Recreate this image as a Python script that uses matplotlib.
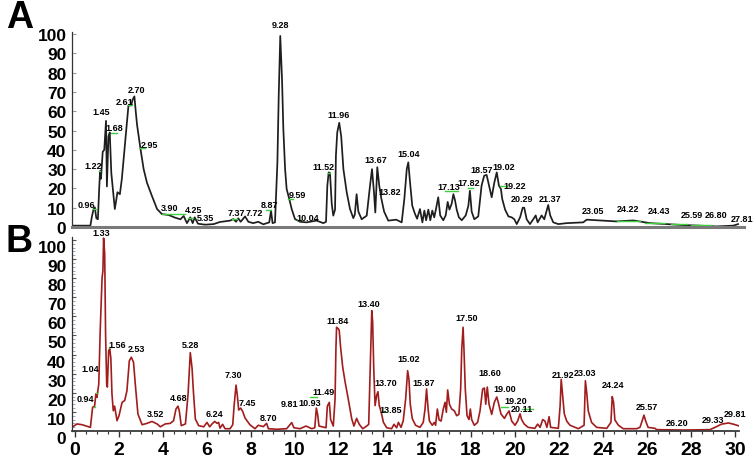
import matplotlib
matplotlib.use("Agg")
import matplotlib.pyplot as plt
from matplotlib.ticker import MultipleLocator
from matplotlib.transforms import ScaledTranslation

plt.rcParams['font.family'] = ['Liberation Sans', 'DejaVu Sans']

# ---- trace A (retention time, relative abundance)
a_time = [-0.14, 0.70, 0.77, 0.85, 0.90, 0.97, 1.04, 1.10, 1.14, 1.18, 1.26, 1.33, 1.41, 1.45,
          1.52, 1.58, 1.65, 1.72, 1.81, 1.93, 2.04, 2.13, 2.28, 2.43, 2.55, 2.62, 2.70, 2.76,
          2.82, 2.97, 3.12, 3.27, 3.50, 3.73, 3.95, 4.26, 4.56, 4.79, 4.94, 5.09, 5.24, 5.35,
          5.44, 5.59, 5.92, 6.30, 6.59, 7.05, 7.20, 7.32, 7.42, 7.53, 7.73, 7.88, 8.10, 8.33,
          8.56, 8.83, 8.91, 8.98, 9.09, 9.20, 9.26, 9.33, 9.41, 9.47, 9.55, 9.62, 9.74, 9.85,
          10.00, 10.23, 10.53, 10.98, 11.29, 11.41, 11.47, 11.53, 11.59, 11.67, 11.74, 11.82,
          11.86, 11.92, 12.01, 12.10, 12.20, 12.35, 12.50, 12.65, 12.72, 12.80, 12.88, 13.03,
          13.26, 13.41, 13.50, 13.59, 13.65, 13.74, 13.83, 13.92, 14.05, 14.24, 14.60, 14.85,
          14.97, 15.08, 15.15, 15.23, 15.33, 15.45, 15.55, 15.68, 15.79, 15.88, 15.96, 16.06,
          16.15, 16.24, 16.33, 16.42, 16.51, 16.60, 16.74, 16.85, 16.94, 17.02, 17.12, 17.20,
          17.27, 17.35, 17.45, 17.58, 17.76, 17.88, 17.95, 18.03, 18.15, 18.33, 18.48, 18.60,
          18.71, 18.82, 18.94, 19.06, 19.17, 19.27, 19.36, 19.42, 19.55, 19.70, 19.85, 19.97,
          20.08, 20.23, 20.35, 20.42, 20.53, 20.68, 20.83, 20.94, 21.03, 21.21, 21.33, 21.44,
          21.51, 21.60, 21.74, 21.97, 22.35, 23.10, 23.26, 23.86, 24.60, 25.38, 26.14, 26.90,
          27.65, 28.40, 29.17, 29.92, 30.14]
a_int = [0.7, 0.7, 5.5, 9.5, 10.2, 4.5, 4, 20, 29, 25, 39, 40, 55, 21,
         47, 49, 28, 20, 9.3, 18, 17, 25, 44, 63, 63, 66, 67.7, 60,
         53, 41, 30, 23, 16, 9.3, 6.7, 6.2, 4.8, 4, 5.7, 2, 5, 2,
         5, 1.7, 1.2, 1.5, 2.6, 3.3, 4.1, 2.7, 4.5, 2.7, 5.5, 2.7, 2, 2.7,
         1.4, 2.4, 8.5, 2, 2.4, 33.5, 68, 99, 76.7, 50.8, 30, 19.7, 14.5, 9.3,
         4.1, 2.7, 2.4, 3.3, 2, 2.7, 21.4, 28.3, 28, 12, 5.9, 9,
         37, 49, 54, 47, 30, 18, 9.3, 4.6, 6.5, 17, 8, 4,
         5.9, 21.4, 30, 18, 7.5, 31, 21.4, 15, 8, 3.3, 3.8, 2.4,
         14.5, 30, 33.5, 23, 11, 6.9, 4.3, 9.3, 2.4, 8.5, 3.5, 9,
         3.5, 8.5, 5, 10, 15.4, 6, 3.5, 6, 13, 9, 12, 17,
         14, 9, 5, 3.5, 6, 11, 18.8, 8, 4, 5.5, 21.4, 26.6,
         27, 21.4, 15.4, 23, 28.3, 21.4, 19.7, 14.5, 9, 5.5, 5, 4,
         1.5, 5, 10, 10, 4, 1.5, 4, 6, 2.4, 6, 4, 8.5,
         11.4, 6, 2.4, 1.5, 2, 2.4, 3.8, 3.4, 2.9, 3.4, 2, 1.5,
         1, 0.7, 0.3, 0.7, 1.5]

# ---- trace B
b_time = [-0.14, 0.09, 0.32, 0.70, 0.80, 0.89, 0.95, 1.00, 1.08, 1.15, 1.23, 1.27, 1.30, 1.35,
          1.39, 1.44, 1.47, 1.53, 1.58, 1.63, 1.68, 1.74, 1.80, 1.91, 2.00, 2.14, 2.26, 2.36,
          2.47, 2.56, 2.66, 2.74, 2.86, 3.05, 3.27, 3.50, 3.73, 3.88, 4.10, 4.33, 4.48, 4.59,
          4.68, 4.74, 4.83, 5.02, 5.14, 5.24, 5.32, 5.38, 5.47, 5.62, 5.85, 6.00, 6.12, 6.23,
          6.35, 6.46, 6.53, 6.59, 6.71, 6.82, 7.05, 7.17, 7.23, 7.32, 7.38, 7.44, 7.53, 7.62,
          7.73, 7.95, 8.18, 8.33, 8.56, 8.71, 8.79, 9.17, 9.62, 9.85, 9.95, 10.23, 10.50, 10.76,
          10.90, 10.97, 11.03, 11.09, 11.41, 11.47, 11.56, 11.62, 11.74, 11.82, 11.86, 11.89,
          11.97, 12.01, 12.08, 12.17, 12.28, 12.42, 12.58, 12.68, 12.80, 12.92, 13.08, 13.26,
          13.35, 13.44, 13.49, 13.53, 13.58, 13.64, 13.71, 13.77, 13.83, 13.92, 14.02, 14.17,
          14.39, 14.50, 14.62, 14.70, 14.82, 14.92, 15.03, 15.12, 15.18, 15.24, 15.33, 15.48,
          15.68, 15.83, 15.91, 15.98, 16.05, 16.11, 16.24, 16.33, 16.39, 16.47, 16.55, 16.64,
          16.74, 16.82, 16.88, 16.94, 17.02, 17.12, 17.24, 17.35, 17.45, 17.53, 17.58, 17.64,
          17.68, 17.74, 17.82, 17.91, 17.97, 18.03, 18.15, 18.30, 18.41, 18.53, 18.61, 18.67,
          18.74, 18.82, 18.94, 19.06, 19.17, 19.24, 19.36, 19.52, 19.62, 19.73, 19.85, 20.00,
          20.12, 20.23, 20.30, 20.42, 20.60, 20.90, 21.03, 21.14, 21.26, 21.36, 21.45, 21.55,
          21.62, 21.97, 22.05, 22.10, 22.16, 22.24, 22.35, 22.50, 22.88, 23.14, 23.20, 23.26,
          23.33, 23.48, 23.71, 24.17, 24.36, 24.42, 24.48, 24.54, 24.70, 24.92, 25.53, 25.68,
          25.80, 25.86, 25.94, 26.05, 26.36, 26.44, 27.65, 28.86, 29.09, 29.39, 29.70, 29.92,
          30.08, 30.20]
b_int = [1.9, 3.7, 3.3, 1.9, 12.4, 13, 19.4, 17.6, 24.6, 54, 80, 84, 101, 92.7,
         50.8, 24.6, 23, 42, 43, 38, 19.4, 10.6, 13, 5.4, 8, 15, 16, 21,
         36.8, 38.6, 36, 24.6, 8.9, 3.3, 4, 5, 3.7, 2.2, 3.7, 4, 5.4, 11.5,
         13, 10.6, 2.8, 3.7, 19.4, 41, 33, 21, 6.3, 2.8, 2.2, 4.5, 2.2, 3.7,
         5, 4, 4.5, 1.5, 3.5, 1.2, 1.2, 3.3, 13, 24, 18.5, 11, 12, 10.3,
         6.8, 3.3, 1.2, 3, 2.3, 4, 1.2, 0.9, 1.2, 4.4, 1.7, 1.2, 2.6, 1.2,
         1.7, 12, 8.6, 2.6, 1.7, 13, 15, 6, 2.6, 16.5, 43, 54.3,
         53.5, 52.7, 43, 33.3, 25.5, 16.8, 6.3, 2.6, 6.6, 3.5, 1.2, 2.6,
         3.5, 43, 63, 57, 32.5, 13.3, 18.5, 20.6, 13.3, 9.8, 4.5, 1.7,
         1.2, 3.5, 1.7, 4.5, 1.9, 5.4, 16.8, 31.6, 27, 14, 6.5, 3,
         1.9, 4.5, 11.5, 22, 11.5, 5.2, 3, 4.5, 3, 11.5, 5.8, 5.2,
         11.5, 15, 9.8, 21.5, 14, 11.5, 10.6, 8, 8.7, 22, 43, 54.3,
         43, 22, 8, 6, 11.5, 6, 3, 4.5, 10.5, 22, 22.5, 14,
         23, 14, 8.7, 15, 17.8, 15, 9, 6.6, 8.7, 10.5, 5.2, 3,
         5.2, 9, 6, 3.6, 1.9, 1.4, 3.6, 1.9, 6, 5.2, 1.9, 7.5,
         1.9, 1.4, 13, 27, 19, 9, 5.2, 3, 1.2, 3, 26.3, 20,
         10.5, 4.5, 1.9, 1.4, 4.5, 18, 15, 5.8, 3, 1.2, 1.2, 1.9,
         6, 8.3, 5.2, 1.9, 1.4, 0.7, 0.5, 0.7, 1.9, 3.6, 4.2, 3.6,
         3, 2.6]

# ---- peak labels (text, position)
a_labels = ['0.96', '1.22', '1.45', '1.68', '2.61', '2.70', '2.95', '3.90', '4.25', '5.35',
            '7.37', '7.72', '8.87', '9.28', '9.59', '10.04', '11.52', '11.96', '13.67', '13.82',
            '15.04', '17.13', '17.82', '18.57', '19.02', '19.22', '20.29', '21.37', '23.05',
            '24.22', '24.43', '25.59', '26.80', '27.81']
a_lab_t = [0.53, 0.83, 1.18, 1.79, 2.27, 2.80, 3.38, 4.32, 5.40, 5.95,
           7.33, 8.17, 8.83, 9.32, 10.10, 10.60, 11.29, 11.97, 13.67, 14.29,
           15.18, 17.00, 17.91, 18.47, 19.49, 20.00, 20.30, 21.59, 23.56,
           25.12, 26.56, 28.03, 29.14, 30.30]
a_lab_v = [11.6, 31.8, 59.7, 51.7, 64.9, 71.5, 43, 10.2, 9.3, 4.8,
           7.6, 7.6, 11.6, 104.7, 17.1, 5, 31.4, 58.2, 34.9, 18.5,
           38.3, 20.9, 23.2, 29.7, 31.2, 21.4, 14.9, 14.9, 8.5,
           9.7, 8.5, 6.7, 6.7, 4.5]

b_labels = ['1.33', '1.56', '2.53', '1.04', '0.94', '3.52', '4.68', '5.28', '6.24', '7.30',
            '7.45', '8.70', '9.81', '10.93', '11.49', '11.84', '13.40', '13.70', '13.85',
            '15.02', '15.87', '17.50', '18.60', '19.00', '19.20', '20.11', '21.92', '23.03',
            '24.24', '25.57', '26.20', '29.33', '29.81']
b_lab_t = [1.18, 1.90, 2.77, 0.68, 0.49, 3.64, 4.70, 5.23, 6.36, 7.20,
           7.83, 8.79, 9.74, 10.68, 11.29, 11.92, 13.36, 14.12, 14.35,
           15.18, 15.83, 17.80, 18.86, 19.55, 20.03, 20.30, 22.17, 23.18,
           24.47, 26.01, 27.35, 28.99, 30.00]
b_lab_v = [103.7, 45.5, 43, 32.8, 16.8, 9.2, 17.3, 45.5, 9.2, 29.5,
           14.7, 7.2, 14.5, 14.8, 20.8, 58.1, 66.5, 25.5, 11.5,
           37.7, 25.5, 59.5, 30.4, 22.3, 15.9, 11.9, 29.8, 30.7,
           24.6, 12.9, 4.5, 5.9, 8.9]

# green integration marks (start, end, level)
a_green_t0 = [0.84, 1.07, 1.64, 2.42, 2.95, 3.94, 5.15, 7.12, 8.68, 9.70, 10.10, 11.48,
              16.82, 17.88, 19.32, 24.62, 25.90, 27.10, 28.00]
a_green_t1 = [0.95, 1.15, 1.90, 2.60, 3.18, 5.00, 5.38, 7.38, 8.90, 9.92, 10.23, 11.59,
              17.42, 18.08, 19.62, 25.68, 26.80, 27.80, 28.90]
a_green_v = [9.5, 29, 48.5, 63, 40.8, 6.7, 4.7, 4.1, 9, 14.5, 3.5, 28,
             18.5, 20.2, 21, 3.0, 2.2, 1.5, 1.2]
b_green_t0 = [0.86, 0.96, 1.56, 10.68, 13.94, 19.36, 20.30]
b_green_t1 = [0.90, 1.00, 1.62, 10.98, 14.10, 19.70, 20.83]
b_green_v = [12.7, 20, 43.8, 18, 10.6, 12.4, 11.5]

W, H = 753, 460
fig = plt.figure(figsize=(W / 100, H / 100), dpi=100)

x0_px, px_per_min = 75, 22.0
xmin = (72 - x0_px) / px_per_min

def fx(px):
    return px / W

def fy(py):
    return 1 - py / H

# panel A: x axis at y=228 px, 1.93 px per unit
axA = fig.add_axes([fx(72), fy(228), fx(743.8 - 72), (228 - 33.1) / H])
axA.plot(a_time, a_int, color='#1e1e1e', linewidth=1.25)
for t0, t1, v in zip(a_green_t0, a_green_t1, a_green_v):
    axA.plot([t0, t1], [v, v], color='#3ecf3e', linewidth=1.0)
axA.set_xlim(xmin, (743.8 - x0_px) / px_per_min)
axA.set_ylim(0, 101)
axA.set_yticks(range(0, 101, 10))
axA.set_xticks([])
for s in ['top', 'right']:
    axA.spines[s].set_visible(False)
axA.spines['bottom'].set_color('#7a7a7a')
axA.spines['bottom'].set_linewidth(2.2)
axA.spines['left'].set_color('#333333')
axA.spines['left'].set_linewidth(0.9)
axA.tick_params(axis='y', direction='in', length=3, color='#9a9a9a', pad=4,
                labelsize=12.5)
for lab in axA.get_yticklabels():
    lab.set_fontweight('bold')
for txt, t, v in zip(a_labels, a_lab_t, a_lab_v):
    axA.text(t, v, txt, fontsize=6.5, fontweight='bold', ha='center', va='center',
             clip_on=False)

# panel B: x axis at y=432 px, 1.91 px per unit
axB = fig.add_axes([fx(72), fy(432), fx(739.4 - 72), (432 - 238.1) / H])
axB.plot(b_time, b_int, color='#a11d1d', linewidth=1.2)
for t0, t1, v in zip(b_green_t0, b_green_t1, b_green_v):
    axB.plot([t0, t1], [v, v], color='#3ecf3e', linewidth=1.0)
axB.set_xlim(xmin, (739.4 - x0_px) / px_per_min)
axB.set_ylim(0, 101.5)
axB.set_yticks(range(0, 101, 10))
axB.set_xticks(range(0, 31, 2))
axB.xaxis.set_minor_locator(MultipleLocator(0.5))
axB.yaxis.set_minor_locator(MultipleLocator(2))
for s in ['top', 'right']:
    axB.spines[s].set_visible(False)
axB.spines['bottom'].set_color('#3a3a3a')
axB.spines['bottom'].set_linewidth(1.3)
axB.spines['left'].set_color('#333333')
axB.spines['left'].set_linewidth(0.9)
axB.tick_params(axis='y', which='major', direction='in', length=3, color='#555555',
                pad=4, labelsize=12.5)
axB.tick_params(axis='y', which='minor', direction='in', length=2, color='#8899bb')
axB.tick_params(axis='x', which='major', direction='out', length=4, width=1,
                color='#333333', pad=3, labelsize=14)
axB.tick_params(axis='x', which='minor', direction='out', length=2.5, width=0.8,
                color='#333333')
for lab in axB.get_yticklabels() + axB.get_xticklabels():
    lab.set_fontweight('bold')
for txt, t, v in zip(b_labels, b_lab_t, b_lab_v):
    axB.text(t, v, txt, fontsize=6.5, fontweight='bold', ha='center', va='center',
             clip_on=False)

fig.text(fx(20), fy(18), 'A', fontsize=27, fontweight='bold', ha='center', va='center')
fig.text(fx(19), fy(242), 'B', fontsize=27, fontweight='bold', ha='center', va='center')

# the 0..100 labels of panel B sit a few pixels lower than its axis line
fig.canvas.draw()
shift = ScaledTranslation(0, -6 / 100, fig.dpi_scale_trans)
for lab in axB.get_yticklabels():
    lab.set_transform(lab.get_transform() + shift)

fig.savefig('out.png', dpi=100)
